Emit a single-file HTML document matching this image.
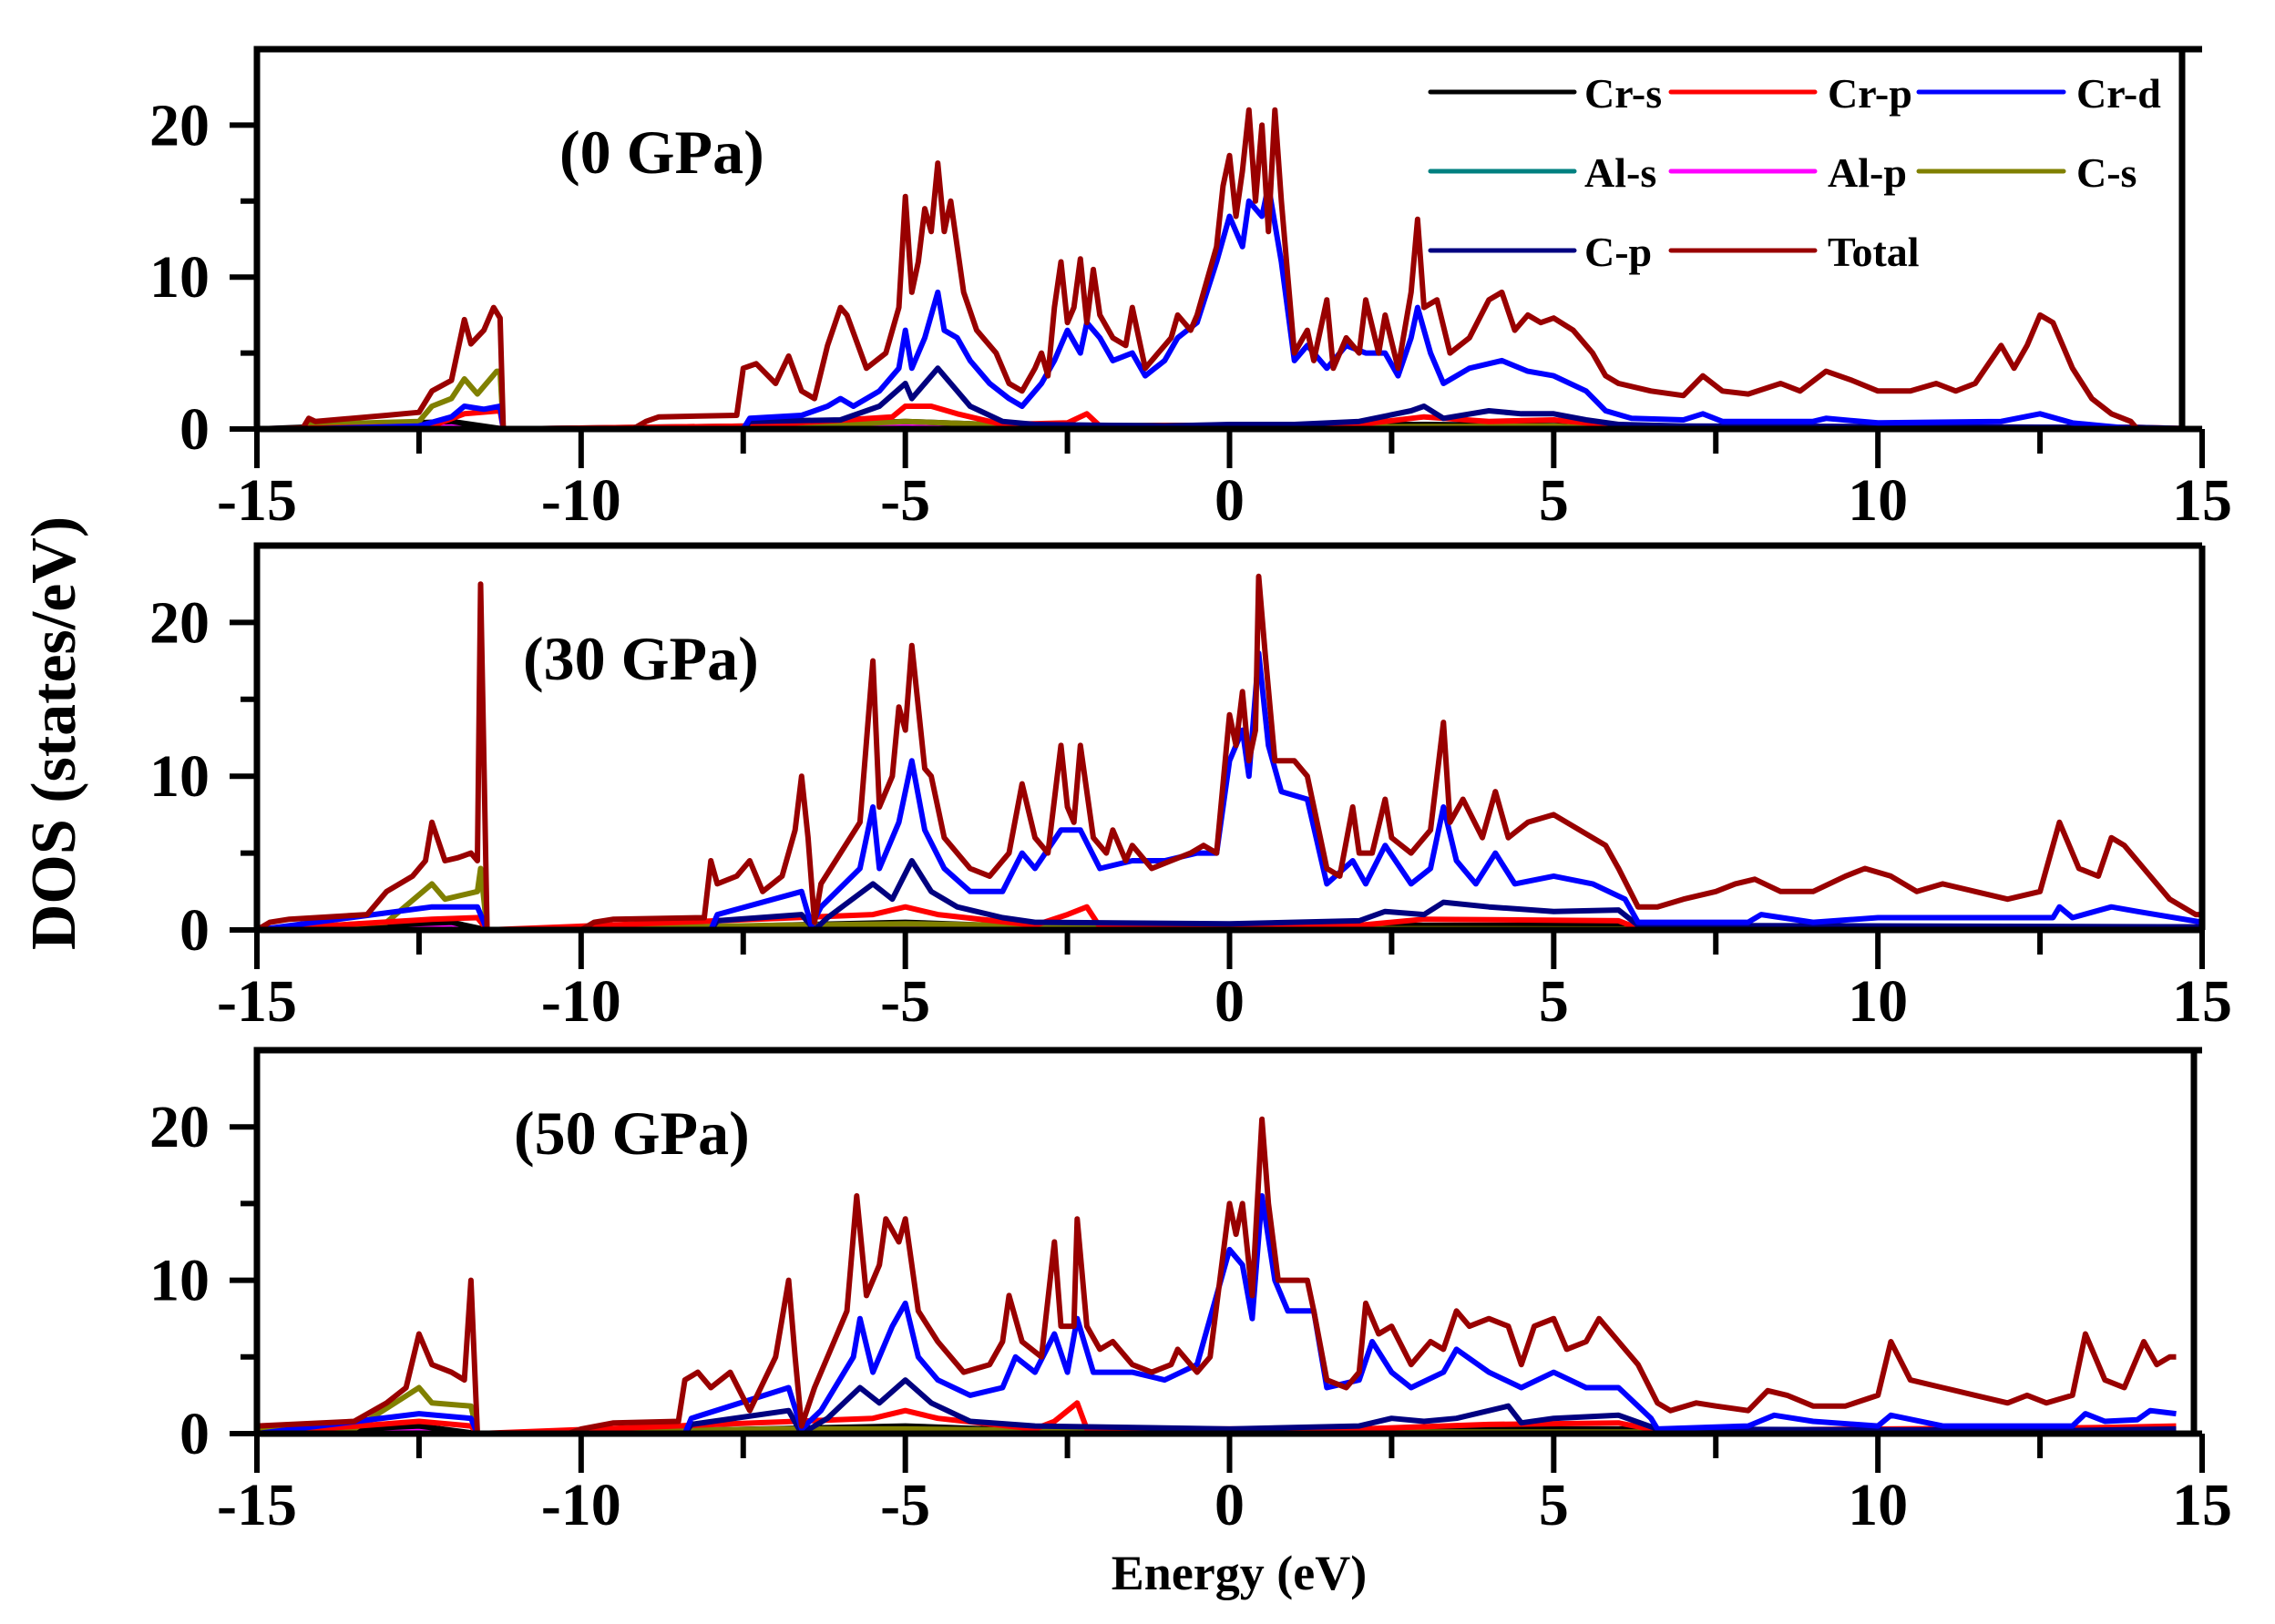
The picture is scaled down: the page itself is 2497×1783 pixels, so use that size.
<!DOCTYPE html>
<html><head><meta charset="utf-8"><style>
html,body{margin:0;padding:0;background:#fff;}
svg{display:block;font-family:"Liberation Serif",serif;font-weight:bold;}
</style></head><body>
<svg id="chart" xmlns="http://www.w3.org/2000/svg" width="2497" height="1783" viewBox="0 0 2497 1783">
<text x="0" y="0" transform="translate(82,805) rotate(-90)" text-anchor="middle" font-size="70">DOS (states/eV)</text>
<text x="1360" y="1745" text-anchor="middle" font-size="54">Energy (eV)</text>
</svg>
<script>
// ---- data: [energy eV, DOS states/eV] ----
const p0_total=[[-15,0],[-14.3,0],[-14.2,0.7],[-14.1,0.5],[-13,0.9],[-12.5,1.1],[-12.3,2.5],[-12,3.2],[-11.8,7.2],[-11.7,5.6],[-11.5,6.5],[-11.35,8],[-11.25,7.3],[-11.2,0],[-9.2,0],[-9,0.5],[-8.8,0.8],[-7.6,0.9],[-7.5,4],[-7.3,4.3],[-7.0,3],[-6.8,4.8],[-6.6,2.5],[-6.4,2],[-6.2,5.5],[-6.0,8],[-5.9,7.5],[-5.6,4],[-5.3,5],[-5.1,8],[-5.0,15.3],[-4.9,9],[-4.8,11],[-4.7,14.5],[-4.6,13],[-4.5,17.5],[-4.4,13],[-4.3,15],[-4.1,9],[-3.9,6.5],[-3.6,5],[-3.4,3],[-3.2,2.5],[-3.0,4],[-2.9,5],[-2.8,3.5],[-2.7,8],[-2.6,11],[-2.5,7],[-2.4,8],[-2.3,11.2],[-2.2,7],[-2.1,10.5],[-2.0,7.5],[-1.8,6],[-1.6,5.5],[-1.5,8],[-1.3,4],[-1.1,5],[-0.9,6],[-0.8,7.5],[-0.6,6.5],[-0.5,7.5],[-0.2,12],[-0.1,16],[0,18],[0.1,14],[0.2,17],[0.3,21],[0.4,15],[0.5,20],[0.6,13],[0.7,21],[0.8,15],[0.9,10],[1.0,5],[1.2,6.5],[1.3,4.5],[1.5,8.5],[1.6,4],[1.8,6],[2.0,5],[2.1,8.5],[2.3,5],[2.4,7.5],[2.6,4],[2.8,9],[2.9,13.8],[3.0,8],[3.2,8.5],[3.4,5],[3.7,6],[4.0,8.5],[4.2,9],[4.4,6.5],[4.6,7.5],[4.8,7],[5.0,7.3],[5.3,6.5],[5.6,5],[5.8,3.5],[6.0,3],[6.5,2.5],[7.0,2.2],[7.3,3.5],[7.6,2.5],[8.0,2.3],[8.5,3],[8.8,2.5],[9.2,3.8],[9.6,3.2],[10.0,2.5],[10.5,2.5],[10.9,3],[11.2,2.5],[11.5,3],[11.9,5.5],[12.1,4],[12.3,5.5],[12.5,7.5],[12.7,7],[13.0,4],[13.3,2],[13.6,1],[13.9,0.5],[14.0,0],[15,0]];
const p0_crd=[[-15,0],[-14.3,0],[-12.5,0.2],[-12,0.8],[-11.8,1.5],[-11.5,1.3],[-11.25,1.5],[-11.2,0],[-7.5,0],[-7.4,0.7],[-6.6,0.9],[-6.2,1.5],[-6,2],[-5.8,1.5],[-5.4,2.5],[-5.1,4],[-5,6.5],[-4.9,4],[-4.7,6],[-4.5,9],[-4.4,6.5],[-4.2,6],[-4,4.5],[-3.7,3],[-3.4,2],[-3.2,1.5],[-2.9,3],[-2.7,4.5],[-2.5,6.5],[-2.3,5],[-2.2,7],[-2,6],[-1.8,4.5],[-1.5,5],[-1.3,3.5],[-1,4.5],[-0.8,6],[-0.5,7],[-0.2,11],[0,14],[0.2,12],[0.3,15],[0.5,14],[0.6,16],[0.8,11],[1.0,4.5],[1.2,5.5],[1.5,4],[1.8,5.5],[2.1,5],[2.4,5],[2.6,3.5],[2.8,6],[2.9,8],[3.1,5],[3.3,3],[3.7,4],[4.2,4.5],[4.6,3.8],[5,3.5],[5.5,2.5],[5.8,1.2],[6.2,0.7],[7,0.6],[7.3,1],[7.6,0.5],[9,0.5],[9.2,0.7],[10,0.4],[11.9,0.5],[12.5,1],[13,0.4],[13.5,0.2],[14,0],[15,0]];
const p0_cp=[[-15,0],[-7.5,0],[-7.4,0.5],[-6,0.6],[-5.4,1.5],[-5,3],[-4.9,2],[-4.5,4],[-4.2,2.5],[-4,1.5],[-3.5,0.5],[-3,0.3],[-1,0.2],[0,0.3],[1,0.3],[2,0.5],[2.8,1.2],[3,1.5],[3.3,0.7],[4,1.2],[4.5,1],[5,1],[5.5,0.6],[6,0.3],[7,0.2],[14,0.1],[15,0]];
const p0_crp=[[-15,0],[-12.3,0.2],[-11.8,1],[-11.25,1.2],[-11.2,0],[-7.4,0.2],[-5.2,0.8],[-5,1.5],[-4.6,1.5],[-4.2,1],[-3.5,0.3],[-2.5,0.4],[-2.2,1],[-2,0.2],[2,0.3],[3,0.8],[4,0.5],[5,0.6],[6,0.2],[14,0.1],[15,0]];
const p0_cs=[[-15,0],[-14.3,0],[-14.2,0.3],[-12.5,0.5],[-12.3,1.5],[-12,2],[-11.8,3.3],[-11.6,2.3],[-11.3,3.8],[-11.25,3.8],[-11.2,0],[-7.4,0],[-6,0.3],[-5,0.5],[-3,0.2],[0,0.1],[5,0.2],[6,0],[15,0]];
const p0_small=[[-15,0],[-12,0.5],[-11.2,0],[-7.4,0.2],[-5,0.5],[-3,0.2],[3,0.3],[6,0.2],[15,0]];

const p1_total=[[-15,0],[-14.8,0.5],[-14.5,0.7],[-13.3,1],[-13,2.5],[-12.6,3.5],[-12.4,4.5],[-12.3,7],[-12.1,4.5],[-11.9,4.7],[-11.7,5],[-11.6,4.5],[-11.55,22.5],[-11.45,0],[-10,0],[-9.8,0.5],[-9.5,0.7],[-8.1,0.8],[-8,4.5],[-7.9,3],[-7.6,3.5],[-7.4,4.5],[-7.2,2.5],[-6.9,3.5],[-6.7,6.5],[-6.6,10],[-6.5,6],[-6.4,0.5],[-6.3,3],[-6.0,5],[-5.7,7],[-5.5,17.5],[-5.4,8],[-5.2,10],[-5.1,14.5],[-5.0,13],[-4.9,18.5],[-4.7,10.5],[-4.6,10],[-4.4,6],[-4.0,4],[-3.7,3.5],[-3.4,5],[-3.2,9.5],[-3.0,6],[-2.8,5],[-2.6,12],[-2.5,8],[-2.4,7],[-2.3,12],[-2.1,6],[-1.9,5],[-1.8,6.5],[-1.6,4.5],[-1.5,5.5],[-1.2,4],[-0.9,4.5],[-0.6,5],[-0.4,5.5],[-0.2,5],[0,14],[0.1,12],[0.2,15.5],[0.3,11],[0.4,13],[0.45,23],[0.55,18],[0.7,11],[1.0,11],[1.2,10],[1.5,4],[1.7,3.5],[1.9,8],[2.0,5],[2.2,5],[2.4,8.5],[2.5,6],[2.8,5],[3.1,6.5],[3.3,13.5],[3.4,7],[3.6,8.5],[3.9,6],[4.1,9],[4.3,6],[4.6,7],[5.0,7.5],[5.4,6.5],[5.8,5.5],[6.0,4],[6.3,1.5],[6.6,1.5],[7.0,2],[7.5,2.5],[7.8,3],[8.1,3.3],[8.5,2.5],[9.0,2.5],[9.5,3.5],[9.8,4],[10.2,3.5],[10.6,2.5],[11.0,3],[11.5,2.5],[12.0,2],[12.5,2.5],[12.8,7],[13.1,4],[13.4,3.5],[13.6,6],[13.8,5.5],[14.1,4],[14.5,2],[14.9,1],[15,1]];
const p1_crd=[[-15,0],[-12.3,1.5],[-11.6,1.5],[-11.45,0],[-8,0],[-7.9,1],[-6.6,2.5],[-6.45,0.3],[-6.3,1.5],[-5.7,4],[-5.5,8],[-5.4,4],[-5.1,7],[-4.9,11],[-4.7,6.5],[-4.4,4],[-4,2.5],[-3.5,2.5],[-3.2,5],[-3,4],[-2.6,6.5],[-2.3,6.5],[-2,4],[-1.5,4.5],[-1,4.5],[-0.5,5],[-0.2,5],[0,11],[0.2,13],[0.3,10],[0.45,18],[0.6,12],[0.8,9],[1.2,8.5],[1.5,3],[1.9,4.5],[2.1,3],[2.4,5.5],[2.8,3],[3.1,4],[3.3,8],[3.5,4.5],[3.8,3],[4.1,5],[4.4,3],[5,3.5],[5.6,3],[6.1,2],[6.3,0.5],[8,0.5],[8.2,1],[9,0.5],[10,0.8],[12.7,0.8],[12.8,1.5],[13,0.8],[13.6,1.5],[14,1.2],[15,0.5]];
const p1_cp=[[-15,0],[-8,0],[-7.9,0.6],[-6.6,1],[-6.4,0],[-6.2,0.8],[-5.5,3],[-5.2,2],[-4.9,4.5],[-4.6,2.5],[-4.2,1.5],[-3.5,0.8],[-3,0.5],[0,0.4],[2,0.6],[2.4,1.2],[3,1],[3.3,1.8],[4,1.5],[5,1.2],[6,1.3],[6.3,0.3],[15,0.2]];
const p1_crp=[[-15,0],[-12.3,0.7],[-11.6,0.8],[-11.45,0],[-5.5,1],[-5,1.5],[-4.5,1],[-3,0.3],[-2.5,1],[-2.2,1.5],[-2,0.2],[2,0.3],[3,0.7],[6,0.6],[6.3,0.1],[15,0.2]];
const p1_cs=[[-15,0],[-13,0.5],[-12.3,3],[-12.1,2],[-11.6,2.5],[-11.55,4],[-11.45,0],[-7,0.3],[-5,0.4],[0,0.1],[15,0]];
const p1_small=[[-15,0],[-12,0.5],[-11.45,0],[-8,0.2],[-5,0.5],[-3,0.2],[3,0.3],[6,0.3],[15,0.1]];

const p2_total=[[-15,0.5],[-13.5,0.8],[-13,2],[-12.7,3],[-12.5,6.5],[-12.3,4.5],[-12.0,4],[-11.8,3.5],[-11.7,10],[-11.6,0],[-10.2,0],[-10,0.3],[-9.5,0.7],[-8.5,0.8],[-8.4,3.5],[-8.2,4],[-8.0,3],[-7.7,4],[-7.4,1.5],[-7.0,5],[-6.8,10],[-6.7,5],[-6.6,0.5],[-6.4,3],[-6.1,6],[-5.9,8],[-5.75,15.5],[-5.6,9],[-5.4,11],[-5.3,14],[-5.1,12.5],[-5.0,14],[-4.8,8],[-4.5,6],[-4.1,4],[-3.7,4.5],[-3.5,6],[-3.4,9],[-3.2,6],[-2.9,5],[-2.7,12.5],[-2.6,7],[-2.4,7],[-2.35,14],[-2.2,7],[-2.0,5.5],[-1.8,6],[-1.5,4.5],[-1.2,4],[-0.9,4.5],[-0.8,5.5],[-0.5,4],[-0.3,5],[0,15],[0.1,13],[0.2,15],[0.35,9],[0.5,20.5],[0.6,15],[0.75,10],[1.2,10],[1.3,8],[1.5,3.5],[1.8,3],[2.0,4],[2.1,8.5],[2.3,6.5],[2.5,7],[2.8,4.5],[3.1,6],[3.3,5.5],[3.5,8],[3.7,7],[4.0,7.5],[4.3,7],[4.5,4.5],[4.7,7],[5.0,7.5],[5.2,5.5],[5.5,6],[5.7,7.5],[6.0,6],[6.3,4.5],[6.6,2],[6.8,1.5],[7.2,2],[7.5,1.8],[8.0,1.5],[8.3,2.8],[8.6,2.5],[9,1.8],[9.5,1.8],[10.0,2.5],[10.2,6],[10.5,3.5],[11,3],[11.5,2.5],[12,2],[12.3,2.5],[12.6,2],[13.0,2.5],[13.2,6.5],[13.5,3.5],[13.8,3],[14.1,6],[14.3,4.5],[14.5,5],[14.6,5]];
const p2_crd=[[-15,0],[-12.5,1.3],[-11.7,1],[-11.6,0],[-8.4,0],[-8.3,1],[-6.8,3],[-6.6,0.3],[-6.3,1.5],[-5.8,5],[-5.7,7.5],[-5.5,4],[-5.2,7],[-5.0,8.5],[-4.8,5],[-4.5,3.5],[-4,2.5],[-3.5,3],[-3.3,5],[-3,4],[-2.7,6.5],[-2.5,4],[-2.35,7.5],[-2.1,4],[-1.5,4],[-1,3.5],[-0.5,4.5],[0,12],[0.2,11],[0.35,7.5],[0.5,15.5],[0.7,10],[0.9,8],[1.3,8],[1.5,3],[2,3.5],[2.2,6],[2.5,4],[2.8,3],[3.3,4],[3.5,5.5],[4,4],[4.5,3],[5,4],[5.5,3],[6,3],[6.5,1],[6.6,0.3],[8,0.5],[8.4,1.2],[9,0.8],[10,0.5],[10.2,1.2],[11,0.5],[13,0.5],[13.2,1.3],[13.5,0.8],[14,0.9],[14.2,1.5],[14.6,1.3]];
const p2_cp=[[-15,0],[-8.4,0],[-8.3,0.6],[-6.8,1.5],[-6.6,0],[-6.2,1],[-5.7,3],[-5.4,2],[-5,3.5],[-4.6,2],[-4,0.8],[-3,0.5],[0,0.3],[2,0.5],[2.5,1],[3,0.8],[3.5,1],[4.3,1.8],[4.5,0.7],[5,1],[6,1.2],[6.6,0.3],[13,0.2],[14.6,0.3]];
const p2_crp=[[-15,0],[-12.5,0.8],[-11.7,0.5],[-11.6,0],[-5.5,1],[-5,1.5],[-4.5,1],[-3,0.3],[-2.7,0.8],[-2.35,2],[-2.2,0.3],[2,0.3],[4,0.6],[6,0.7],[6.6,0.2],[13.5,0.4],[14.6,0.5]];
const p2_cs=[[-15,0.3],[-13.5,0.3],[-12.5,3],[-12.3,2],[-11.7,1.8],[-11.6,0],[-7,0.3],[-5,0.3],[0,0.1],[14.6,0.1]];
const p2_small=[[-15,0],[-12.5,0.5],[-11.6,0],[-8.4,0.2],[-5,0.5],[-3,0.2],[3,0.3],[6,0.3],[14.6,0.1]];

const panelLabels=["(0 GPa)","(30 GPa)","(50 GPa)"];
const xTicks=[-15,-10,-5,0,5,10,15];
const yTicks=[0,10,20];
const legendNames=["Cr-s","Cr-p","Cr-d","Al-s","Al-p","C-s","C-p","Total"];

const NS="http://www.w3.org/2000/svg";
const svg=document.getElementById('chart');
const X0=282,X1=2417;
const panels=[{top:54,zero:471,lx:614,ly:190,right:2395},{top:599,zero:1021,lx:574,ly:746,right:2417},{top:1153,zero:1574,lx:564,ly:1267,right:2408}];
const colors={"Cr-s":"#000000","Cr-p":"#ff0000","Cr-d":"#0000ff","Al-s":"#008080","Al-p":"#ff00ff","C-s":"#808000","C-p":"#000080","Total":"#990000"};
function xs(e){return X0+(e+15)/30*(X1-X0);}
function el(tag,attrs,parent){const n=document.createElementNS(NS,tag);for(const k in attrs)n.setAttribute(k,attrs[k]);(parent||svg).appendChild(n);return n;}
const data=[
 {total:p0_total,crd:p0_crd,cp:p0_cp,crp:p0_crp,cs:p0_cs,small:p0_small},
 {total:p1_total,crd:p1_crd,cp:p1_cp,crp:p1_crp,cs:p1_cs,small:p1_small},
 {total:p2_total,crd:p2_crd,cp:p2_cp,crp:p2_crp,cs:p2_cs,small:p2_small}];
panels.forEach((p,i)=>{
 const g=el('g',{});
 
 
 const ys=v=>p.zero-v*(p.zero-p.top)/25;
 const line=(pts,c,nm,scale)=>{
  const d=pts.map((q,k)=>(k?'L':'M')+xs(q[0]).toFixed(1)+' '+ys(q[1]*(scale||1)).toFixed(1)).join(' ');
  const pa=el('path',{d:d,fill:'none',stroke:c,'stroke-width':6,'stroke-linejoin':'round'},g);
  
  
 };
 const D=data[i];
 line(D.small,colors["Al-s"],'al-s',0.6);
 line(D.small,colors["Al-p"],'al-p',0.8);
 line(D.small,colors["Cr-s"],'cr-s',1);
 line(D.cs,colors["C-s"],'c-s');
 line(D.crp,colors["Cr-p"],'cr-p');
 line(D.cp,colors["C-p"],'c-p');
 line(D.crd,colors["Cr-d"],'cr-d');
 line(D.total,colors["Total"],'total');
 const ax=el('path',{d:`M${X0} ${p.zero} H${X1} M${X0} ${p.zero} V${p.top} H${X1} M${p.right} ${p.top} V${p.zero}`,fill:'none',stroke:'#000','stroke-width':7},g);
 
 
 for(let e=-15;e<=15;e+=2.5){
  const major=Math.abs(e%5)<1e-6;
  const t=el('line',{x1:xs(e),x2:xs(e),y1:p.zero,y2:p.zero+(major?43:27),stroke:'#000','stroke-width':6},g);
  
  
 }
 xTicks.forEach(e=>{
  const t=el('text',{x:xs(e),y:p.zero+100,'text-anchor':'middle','font-size':66},g);
  
  
  t.textContent=e;
 });
 for(let v=0;v<=20;v+=5){
  const major=v%10===0;
  const t=el('line',{x1:X0,x2:X0-(major?30:18),y1:ys(v),y2:ys(v),stroke:'#000','stroke-width':6},g);
  
  
 }
 yTicks.forEach(v=>{
  const t=el('text',{x:X0-52,y:ys(v)+22,'text-anchor':'end','font-size':66},g);
  
  
  t.textContent=v;
 });
 const lb=el('text',{x:p.lx,y:p.ly,'font-size':68},g);
 
 
 lb.textContent=panelLabels[i];
});
const lg=el('g',{});


const colX=[[1570,1728,1739],[1834,1992,2006],[2106,2265,2279]];
const rowY=[101,188,275];
legendNames.forEach((n,k)=>{
 const r=Math.floor(k/3),c=k%3;
 const ln=el('line',{x1:colX[c][0],x2:colX[c][1],y1:rowY[r],y2:rowY[r],stroke:colors[n],'stroke-width':5,'stroke-linecap':'round'},lg);
 
 
 const t=el('text',{x:colX[c][2],y:rowY[r]+17,'font-size':46},lg);
 
 
 t.textContent=n;
});
</script>
</body></html>
